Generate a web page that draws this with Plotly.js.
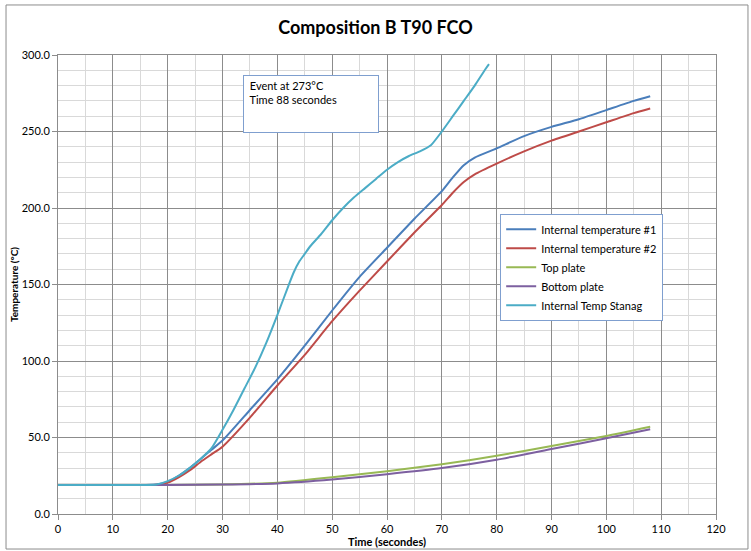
<!DOCTYPE html>
<html>
<head>
<meta charset="utf-8">
<script src="https://cdn.plot.ly/plotly-3.0.1.min.js"></script>
<style>html,body{margin:0;padding:0;background:#fff;}#chart{width:751px;height:551px;}</style>
</head>
<body>
<div id="chart"></div>
<script>
// Time (seconds)
var timeMain = [0, 2, 4, 6, 8, 10, 12, 14, 16, 18, 20, 22, 24, 26, 28, 30, 35, 40, 45, 50, 55, 60, 65, 70, 72, 74, 76, 80, 85, 90, 95, 100, 105, 108];
var internal1 = [19, 19, 19, 19, 19, 19, 19, 19, 19, 19.3, 21, 25, 30, 36, 42, 48, 68, 88, 110, 133, 155, 174, 193, 211, 220, 228, 233, 239, 247, 253, 258, 264, 270, 273];
var internal2 = [19, 19, 19, 19, 19, 19, 19, 19, 19, 19.2, 20.5, 24, 28.5, 34, 39, 44, 63, 84, 104, 126, 146, 165, 184, 202, 210, 217, 222, 229, 237, 244, 250, 256, 262, 265];

var timePlates = [0, 10, 20, 30, 40, 50, 60, 70, 80, 90, 100, 108];
var topPlate = [19, 19, 19, 19.3, 20.5, 24, 28, 32.5, 38, 44.5, 51, 57];
var bottomPlate = [19, 19, 19, 19.2, 20, 22.5, 26, 30, 35.5, 42.5, 49.5, 55.4];

var timeStanag = [0, 4, 8, 12, 16, 18, 20, 22, 24, 26, 28, 30, 32, 34, 36, 38, 40, 42, 43, 44, 45, 46, 48, 50, 52, 54, 56, 58, 60, 62, 64, 66, 68, 70, 72, 74, 76, 78, 78.6];
var stanag = [19, 19, 19, 19, 19, 19.3, 21.5, 25, 30, 36, 43, 55, 68, 82, 96, 112, 130, 149, 158, 165, 170, 175, 183, 192, 200, 207, 213, 219, 225, 230, 234, 237, 241, 250, 260, 270, 280, 291, 294];

var seriesNames = ["Internal temperature #1", "Internal temperature #2", "Top plate", "Bottom plate", "Internal Temp Stanag"];
var seriesColors = ["#4a7ebb", "#be4b48", "#98b954", "#7d60a0", "#4bacc6"];

var xs = [timeMain, timeMain, timePlates, timePlates, timeStanag];
var ys = [internal1, internal2, topPlate, bottomPlate, stanag];

var traces = seriesNames.map(function (n, i) {
  return {
    x: xs[i], y: ys[i], name: n, type: "scatter", mode: "lines",
    line: {color: seriesColors[i], width: 2, shape: "spline", smoothing: 0.5}
  };
});

var font = "Lato, 'Open Sans', sans-serif";
var layout = {
  width: 751, height: 551,
  margin: {l: 58, r: 35, t: 55, b: 37},
  paper_bgcolor: "#ffffff", plot_bgcolor: "#ffffff",
  font: {family: font, size: 11, color: "#000"},
  title: {text: "<b>Composition B T90 FCO</b>", font: {family: font, size: 18, color: "#000"}, x: 0.5, xanchor: "center", y: 0.95, yanchor: "middle"},
  xaxis: {
    range: [0, 120], dtick: 10, tick0: 0, autorange: false,
    showgrid: true, gridcolor: "#8c8c8c", gridwidth: 1,
    minor: {dtick: 5, showgrid: true, gridcolor: "#d9d9d9", gridwidth: 1},
    showline: true, linecolor: "#8c8c8c", linewidth: 1, mirror: true,
    ticks: "outside", ticklen: 5, tickcolor: "#8c8c8c",
    zeroline: false, tickfont: {size: 11},
    title: {text: "<b>Time (secondes)</b>", font: {size: 11}, standoff: 4}
  },
  yaxis: {
    range: [0, 300], dtick: 50, tick0: 0, autorange: false, tickformat: ".1f",
    showgrid: true, gridcolor: "#8c8c8c", gridwidth: 1,
    minor: {dtick: 10, showgrid: true, gridcolor: "#d9d9d9", gridwidth: 1},
    showline: true, linecolor: "#8c8c8c", linewidth: 1, mirror: true,
    ticks: "outside", ticklen: 5, tickcolor: "#8c8c8c",
    zeroline: false, tickfont: {size: 11},
    title: {text: "<b>Temperature (°C)</b>", font: {size: 10}, standoff: 1}
  },
  legend: {
    x: 0.672, y: 0.654, xanchor: "left", yanchor: "top",
    bgcolor: "#ffffff", bordercolor: "#7f9fcf", borderwidth: 1,
    font: {size: 11}, tracegroupgap: 0, itemwidth: 30
  },
  showlegend: true,
  annotations: [{
    xref: "paper", yref: "paper", x: 0.281, y: 0.956, xanchor: "left", yanchor: "top",
    text: "&nbsp;Event at 273°C<br>&nbsp;Time 88 secondes", showarrow: false, align: "left", valign: "top",
    width: 128, height: 50, borderpad: 3, bordercolor: "#7f9fcf", borderwidth: 1,
    bgcolor: "#ffffff", font: {size: 11}
  }],
  shapes: [{
    type: "rect", xref: "paper", yref: "paper",
    x0: -0.079, x1: 1.0486, y0: -0.0763, y1: 1.109,
    line: {color: "#8c8c8c", width: 1}
  }]
};

Plotly.newPlot("chart", traces, layout, {displayModeBar: false, staticPlot: true});
</script>
</body>
</html>
